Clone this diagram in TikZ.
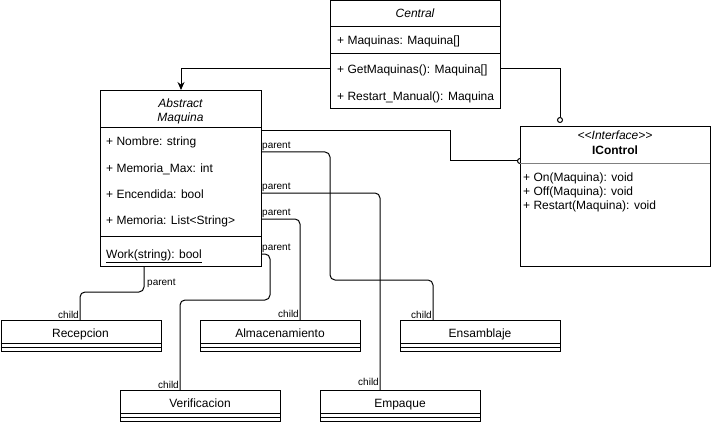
\documentclass[tikz,border=0pt]{standalone}
\usepackage{fontspec}
\setmainfont{Liberation Sans}
\usetikzlibrary{arrows.meta,calc,backgrounds}
\tikzset{
  cls/.style={draw, fill=white, line width=1pt, inner sep=0pt, anchor=north west},
  txt/.style={inner sep=0pt, anchor=base west, font=\fontsize{12}{14}\selectfont},
  ttl/.style={inner sep=0pt, anchor=base, font=\fontsize{12}{14}\selectfont},
  lblp/.style={inner sep=0pt, anchor=base west, font=\fontsize{10}{12}\selectfont},
  lblc/.style={inner sep=0pt, anchor=base east, font=\fontsize{10}{12}\selectfont},
  conn/.style={line width=1pt, rounded corners=5pt},
  sharp/.style={line width=1pt},
  sep/.style={line width=1pt},
}
\begin{document}
\begin{tikzpicture}[x=1pt,y=-1pt]
\useasboundingbox (0,0) rectangle (711,422);

% Central
\node[cls, minimum width=170pt, minimum height=108pt] (central) at (330,0.5) {};
\draw[sep] (330,26.5) -- (500,26.5);
\draw[sep] (330,53.5) -- (500,53.5);
\node[ttl, font=\fontsize{12}{14}\itshape] (centralT) at (415,18) {Central};
\node[txt] (cA) at (337,45) {+ Maquinas: Maquina[]};
\node[txt] (cM1) at (337,74) {+ GetMaquinas(): Maquina[]};
\node[txt] (cM2) at (337,101) {+ Restart\_Manual(): Maquina};

% Maquina
\node[cls, minimum width=161pt, minimum height=176pt] (maq) at (100,90) {};
\draw[sep] (100,128) -- (261,128);
\draw[sep] (100,236) -- (261,236);
\node[ttl, font=\fontsize{12}{14}\itshape] (maqT1) at (180.5,108) {Abstract};
\node[ttl, font=\fontsize{12}{14}\itshape] (maqT2) at (180.5,122) {Maquina};
\node[txt] (mA1) at (106,146) {+ Nombre: string};
\node[txt] (mA2) at (106,172) {+ Memoria\_Max: int};
\node[txt] (mA3) at (106,198) {+ Encendida: bool};
\node[txt] (mA4) at (106,224) {+ Memoria: List<{}String>{}};
\node[txt] (mM1) at (106,258) {\underline{Work(string): bool}};

% IControl
\node[cls, minimum width=190pt, minimum height=140pt] (icon) at (520,126) {};
\draw[line width=1pt, draw=gray] (520,164) -- (710,164);
\node[ttl, font=\fontsize{12}{14}\itshape] (iconT1) at (615,140) {<{}<Interface>{}>};
\node[ttl, font=\fontsize{12}{14}\bfseries] (iconT2) at (615,155) {IControl};
\node[txt] (iM1) at (523,182) {+ On(Maquina): void};
\node[txt] (iM2) at (523,195.5) {+ Off(Maquina): void};
\node[txt] (iM3) at (523,209) {+ Restart(Maquina): void};

% Children
\node[cls, minimum width=160pt, minimum height=31pt] (rec) at (0.5,320) {};
\node[cls, minimum width=160pt, minimum height=31pt] (alm) at (200,320) {};
\node[cls, minimum width=160pt, minimum height=31pt] (ens) at (400,320) {};
\node[cls, minimum width=160pt, minimum height=31pt] (ver) at (120,390) {};
\node[cls, minimum width=160pt, minimum height=31pt] (emp) at (320,390) {};
\foreach \n in {rec,alm,ens,ver,emp}{
  \draw[sep] ([yshift=-23pt]\n.north west) -- ([yshift=-23pt]\n.north east);
  \draw[sep] ([yshift=-27pt]\n.north west) -- ([yshift=-27pt]\n.north east);
}
\node[ttl] (recT) at (80.5,337.5) {Recepcion};
\node[ttl] (almT) at (280,337.5) {Almacenamiento};
\node[ttl] (ensT) at (480,337.5) {Ensamblaje};
\node[ttl] (verT) at (200,407.5) {Verificacion};
\node[ttl] (empT) at (400,407.5) {Empaque};

% Connectors
\begin{scope}[on background layer]
\draw[sharp, -{Stealth[length=8pt,width=7pt]}] ($(central.north west)+(0,68.5)$) -| (maq.north);
\draw[sharp, -{Circle[open,length=6pt,width=6pt]}] ($(central.north east)+(0,68.5)$) -- (560,69) -- ($(icon.north west)+(40,-3)$);
\draw[sharp, -{Circle[open,length=6pt,width=6pt]}] ($(maq.north east)+(0,41)$) -- (450,131) -- (450,161) -- ($(icon.north west)+(3,35)$);

\draw[conn] ($(maq.north east)+(0,62)$) -- (330,152) -- (330,280) -- (433,280) -- ($(ens.north west)+(33,0)$);
\draw[conn] ($(maq.north east)+(0,103)$) -- (380,193) -- ($(emp.north west)+(60,0)$);
\draw[conn] ($(maq.north east)+(0,129)$) -- (300,219) -- ($(alm.north west)+(100,0)$);
\draw[conn] ($(maq.north east)+(0,164)$) -- (270,254) -- (270,300) -- (180,300) -- ($(ver.north west)+(60,0)$);
\draw[conn] ($(maq.south west)+(44,0)$) -- (144,292) -- (80,292) -- ($(rec.north west)+(79.5,0)$);
\end{scope}

% Labels
\node[lblp] (p1) at (262,148.5) {parent};
\node[lblp] (p2) at (262,189.5) {parent};
\node[lblp] (p3) at (262,215.5) {parent};
\node[lblp] (p4) at (262,250) {parent};
\node[lblp] (p5) at (147,285.5) {parent};
\node[lblc] (c1) at (79,318) {child};
\node[lblc] (c2) at (299,317) {child};
\node[lblc] (c3) at (432,318.5) {child};
\node[lblc] (c4) at (179,388) {child};
\node[lblc] (c5) at (379,385) {child};
\end{tikzpicture}
\end{document}
